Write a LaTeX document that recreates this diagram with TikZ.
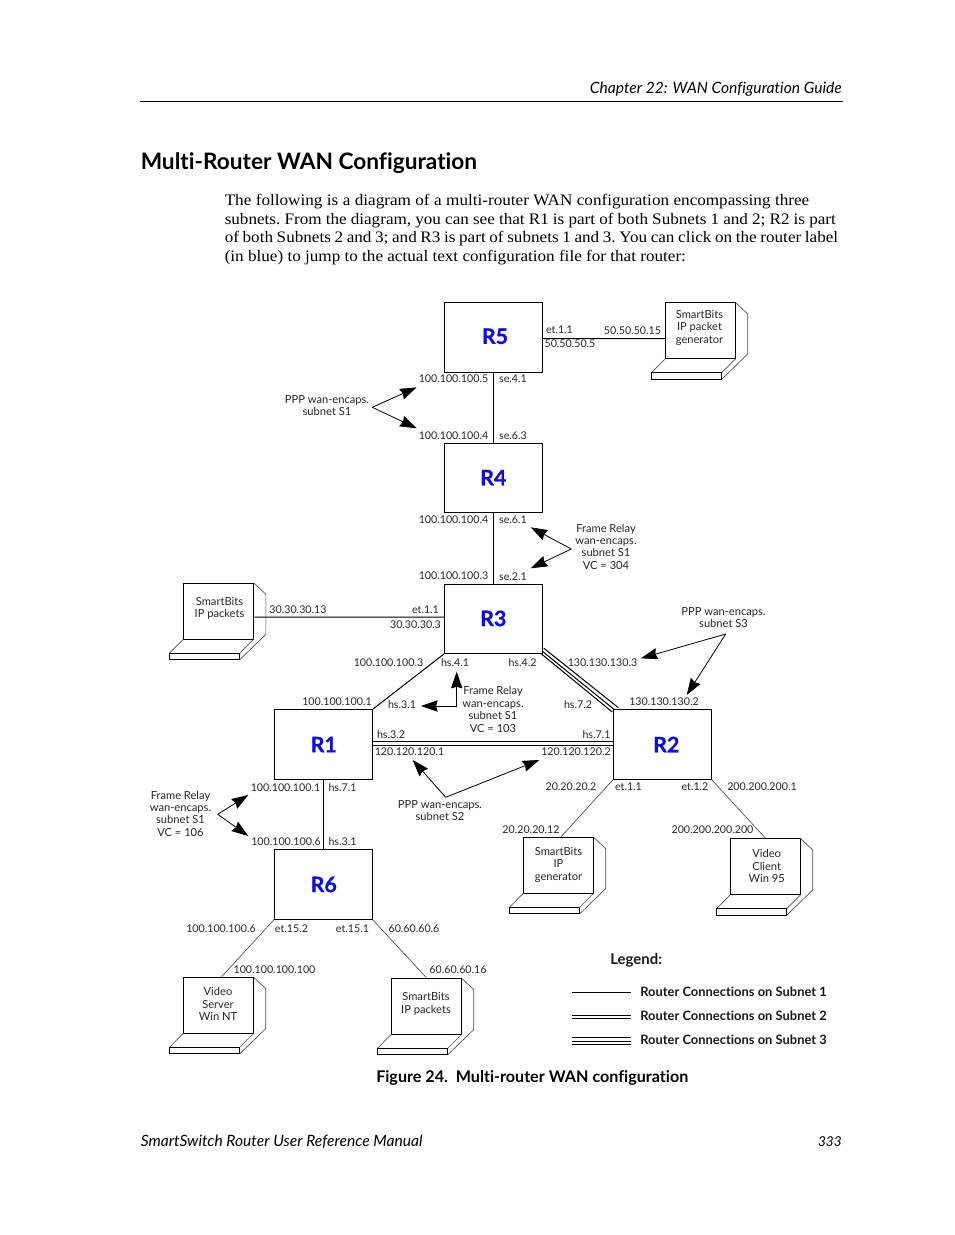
\documentclass[tikz,border=0pt]{standalone}
\usepackage{fontspec}
\usetikzlibrary{arrows.meta,calc}
\setmainfont{Liberation Serif}
\setsansfont[Ligatures={NoCommon,NoRare}]{Lato}
\newfontfamily\bodyf[FakeStretch=1.07]{Liberation Serif}
\newfontfamily\routerf[BoldFeatures={FakeBold=0.6}]{Lato}
\definecolor{rblue}{RGB}{10,10,235}
\newcounter{labc}
\newcommand\lb[3]{\stepcounter{labc}\node[lab] (lb\thelabc) at (#1,#2) {#3};}
\newcommand\mb[3]{\stepcounter{labc}\node[lab,align=center,yshift=0.55pt,font=\sffamily\fontsize{8.35}{9.3}\selectfont] (lb\thelabc) at (#1,#2) {#3};}
\newcommand\laptop[3]{%
  \begin{scope}[shift={(#2,#3)}]
    \node[screenbox] (#1) at (35.2,28) {};
    \draw[thinl] (0,56) -- (-13.8,70) (70.4,56) -- (56.4,70)
      (70.4,0) -- (82.4,11.3) -- (82.4,51.3) -- (56.4,76.6);
    \draw[mainl] (-13.8,70) rectangle (56.4,76.6);
  \end{scope}}
\tikzset{
  x=0.75pt,y=-0.75pt,
  lab/.style={font=\sffamily\fontsize{8}{9.3}\selectfont,inner sep=0pt,text=black!85,yshift=-0.5pt},
  router/.style={draw,line width=0.75pt,minimum width=73.2pt,minimum height=52pt,inner sep=0pt,
     font=\routerf\bfseries\fontsize{16}{20}\selectfont,text=rblue},
  screenbox/.style={draw,line width=0.75pt,minimum width=52.8pt,minimum height=42pt,inner sep=0pt},
  mainl/.style={line width=0.75pt},
  thinl/.style={line width=0.5pt,black!70},
  call/.style={line width=0.6pt,-{Stealth[length=12.5pt,width=8.5pt,inset=1.2pt]}},
  heading/.style={font=\sffamily\bfseries\fontsize{17}{20}\selectfont,inner sep=0pt,anchor=base west},
  para/.style={font=\bodyf\frenchspacing\fontsize{12}{14}\selectfont,inner sep=0pt,anchor=base west},
  runner/.style={font=\sffamily\itshape\fontsize{11.7}{13}\selectfont,inner sep=0pt},
  legendt/.style={font=\sffamily\bfseries\fontsize{9.7}{11}\selectfont,inner sep=0pt,anchor=west,text=black!90},
}
\begin{document}
\begin{tikzpicture}
\useasboundingbox (0,0) rectangle (954,1235);
% page furniture
\node[runner,anchor=base east] (hdr) at (842,93.5) {Chapter 22: WAN Configuration Guide};
\coordinate (hl) at (140,101); \coordinate (hr) at (843,101);
\draw[line width=0.6pt] (hl) -- (hr);
\node[heading] (title) at (140.5,169.5) {Multi-Router WAN Configuration};
\node[para] (p1) at (224.5,205) {\spaceskip=3.35pt The following is a diagram of a multi-router WAN configuration encompassing three};
\node[para] (p2) at (224.5,224) {\spaceskip=3.1pt subnets. From the diagram, you can see that R1 is part of both Subnets 1 and 2; R2 is part};
\node[para] (p3) at (224.5,242) {\spaceskip=2.73pt of both Subnets 2 and 3; and R3 is part of subnets 1 and 3. You can click on the router label};
\node[para] (p4) at (224.5,261) {(in blue) to jump to the actual text configuration file for that router:};
\node[runner,anchor=base west] (ftl) at (140.5,1146.5) {SmartSwitch Router User Reference Manual};
\node[runner,anchor=base east,font=\sffamily\itshape\fontsize{10.2}{13}\selectfont] (ftr) at (842,1146) {333};
% routers
\node[router] (R5) at (493.3,337.5) {\hspace{2.5pt}\raisebox{2pt}{R5}};
\node[router] (R4) at (493.3,478) {\raisebox{0.7pt}{R4}};
\node[router] (R3) at (493.3,618.8) {\raisebox{0.7pt}{R3}};
\node[router] (R1) at (323.3,744.5) {\hspace{0.7pt}\raisebox{-0.5pt}{R1}};
\node[router] (R2) at (662.3,744.5) {\hspace{6pt}R2};
\node[router] (R6) at (323.3,884.5) {\hspace{0.7pt}\raisebox{-0.5pt}{R6}};
% end hosts
\laptop{LA}{665.3}{302.7}
\laptop{LB}{183.5}{583}
\laptop{LC}{523.3}{837.3}
\laptop{LD}{730.3}{838.7}
\laptop{LE}{183.3}{977.3}
\laptop{LF}{391.3}{978.3}
% subnet links
\draw[mainl] (R5.south) -- (R4.north);
\draw[mainl] (R4.south) -- (R3.north);
\draw[mainl] (R1.south) -- (R6.north);
\draw[mainl] ([shift={(0,1)}]R5.east) -- ([shift={(0,8)}]LA.west);
\draw[mainl] ([shift={(0,-1.8)}]R3.west) -- ([shift={(0,6.2)}]LB.east);
\draw[mainl] (R3.south west) -- (R1.north east);
\draw[mainl] ([shift={(1.3,-5.7)}]R3.south east) -- ([shift={(5.3,-1.7)}]R2.north west);
\draw[mainl] ([shift={(0.3,-2.3)}]R3.south east) -- ([shift={(1,0)}]R2.north west);
\draw[mainl] ([shift={(-2,-0.7)}]R3.south east) -- ([shift={(-0.7,2.7)}]R2.north west);
\draw[mainl] ([shift={(0,-2.8)}]R1.east) -- ([shift={(0.7,-2.8)}]R2.west);
\draw[mainl] ([shift={(0,0.8)}]R1.east) -- ([shift={(0.7,0.8)}]R2.west);
\draw[thinl] (R2.south west) -- ([shift={(2.5,0)}]LC.north);
\draw[thinl] (R2.south east) -- (LD.north);
\draw[thinl] (R6.south west) -- ([shift={(3,0)}]LE.north);
\draw[thinl] (R6.south east) -- (LF.north);
% callout arrows
\coordinate (s1) at (372.3,407.3); \coordinate (s1a) at (416.7,387.3); \coordinate (s1b) at (416.7,428.3);
\draw[call] (s1) -- (s1a); \draw[call] (s1) -- (s1b);
\coordinate (f1) at (571.3,549); \coordinate (f1a) at (530.7,527.3); \coordinate (f1b) at (530.7,568.3);
\draw[call] (f1) -- (f1a); \draw[call] (f1) -- (f1b);
\coordinate (s3) at (725.7,634); \coordinate (s3a) at (641,658.3); \coordinate (s3b) at (686.7,695);
\draw[call] (s3) -- (s3a); \draw[call] (s3) -- (s3b);
\coordinate (f2) at (456.7,706); \coordinate (f2a) at (456.7,671.7); \coordinate (f2b) at (421,706);
\draw[call] (f2) -- (f2a); \draw[call] (f2) -- (f2b);
\coordinate (s2) at (445.7,797.3); \coordinate (s2a) at (412.7,760); \coordinate (s2b) at (539.3,760);
\draw[call] (s2) -- (s2a); \draw[call] (s2) -- (s2b);
\coordinate (f3) at (217.7,814.3); \coordinate (f3a) at (248.3,795); \coordinate (f3b) at (248.3,836);
\draw[call] (f3) -- (f3a); \draw[call] (f3) -- (f3b);
% labels
\lb{453.5}{378.5}{100.100.100.5} \lb{513}{378.5}{se.4.1}
\mb{327}{405.5}{PPP wan-encaps.\\subnet S1}
\lb{453.5}{435}{100.100.100.4} \lb{513}{435}{se.6.3}
\lb{559.5}{329}{et.1.1} \lb{632.5}{330}{50.50.50.15} \lb{570}{343}{50.50.50.5}
\lb{453.5}{519}{100.100.100.4} \lb{513}{519}{se.6.1}
\lb{453.5}{575}{100.100.100.3} \lb{513}{576}{se.2.1}
\mb{606}{546.8}{Frame Relay\\wan-encaps.\\subnet S1\\VC = 304}
\lb{298}{609}{30.30.30.13} \lb{425.5}{609}{et.1.1} \lb{415.5}{624}{30.30.30.3}
\lb{388.5}{662}{100.100.100.3} \lb{455}{662}{hs.4.1} \lb{522.5}{662}{hs.4.2} \lb{602.5}{662}{130.130.130.3}
\mb{723.5}{617.5}{PPP wan-encaps.\\subnet S3}
\lb{337}{701}{100.100.100.1} \lb{402}{704}{hs.3.1}
\mb{493}{709.5}{Frame Relay\\wan-encaps.\\subnet S1\\VC = 103}
\lb{578}{704}{hs.7.2} \lb{664}{701}{130.130.130.2}
\lb{391}{734}{hs.3.2} \lb{596.5}{734}{hs.7.1}
\lb{409.5}{751}{120.120.120.1} \lb{576}{751}{120.120.120.2}
\lb{285.5}{787}{100.100.100.1} \lb{342.5}{787}{hs.7.1}
\mb{440}{810.8}{PPP wan-encaps.\\subnet S2}
\lb{571}{786}{20.20.20.2} \lb{628.5}{786}{et.1.1} \lb{695}{786}{et.1.2} \lb{762}{786}{200.200.200.1}
\mb{180.5}{813.8}{Frame Relay\\wan-encaps.\\subnet S1\\VC = 106}
\lb{286}{841}{100.100.100.6} \lb{342.5}{841}{hs.3.1}
\lb{531}{829}{20.20.20.12} \lb{712.5}{829}{200.200.200.200}
\lb{221}{928}{100.100.100.6} \lb{291.5}{928}{et.15.2} \lb{352.5}{928}{et.15.1} \lb{414}{928}{60.60.60.6}
\lb{274.5}{969}{100.100.100.100} \lb{458}{969}{60.60.60.16}
% host captions
\mb{699.5}{328}{SmartBits\\IP packet\\generator}
\mb{219.5}{608.5}{SmartBits\\IP packets}
\mb{558.5}{865}{SmartBits\\IP\\generator}
\mb{766.7}{866}{Video\\Client\\Win 95}
\mb{218}{1004.2}{Video\\Server\\Win NT}
\mb{426}{1004}{SmartBits\\IP packets}
% legend
\node[legendt,anchor=base west,font=\sffamily\bfseries\fontsize{11.2}{13}\selectfont] (leg) at (610,964.5) {Legend:};
\coordinate (a1) at (572,992.3); \coordinate (b1) at (631,992.3);
\coordinate (a2) at (572,1015); \coordinate (b2) at (631,1015);
\coordinate (a3) at (572,1018.3); \coordinate (b3) at (631,1018.3);
\coordinate (a4) at (572,1037.3); \coordinate (b4) at (631,1037.3);
\coordinate (a5) at (572,1041); \coordinate (b5) at (631,1041);
\coordinate (a6) at (572,1044.7); \coordinate (b6) at (631,1044.7);
\draw[mainl] (a1) -- (b1); \draw[mainl] (a2) -- (b2); \draw[mainl] (a3) -- (b3);
\draw[mainl] (a4) -- (b4); \draw[mainl] (a5) -- (b5); \draw[mainl] (a6) -- (b6);
\node[legendt] (lg1) at (640,992) {Router Connections on Subnet 1};
\node[legendt] (lg2) at (640,1016) {Router Connections on Subnet 2};
\node[legendt] (lg3) at (640,1040) {Router Connections on Subnet 3};
\node[font=\sffamily\bfseries\fontsize{12.1}{14}\selectfont,inner sep=0pt,anchor=base west] (cap) at (376,1082.5) {Figure 24.\ \ Multi-router WAN configuration};
\end{tikzpicture}
\end{document}
